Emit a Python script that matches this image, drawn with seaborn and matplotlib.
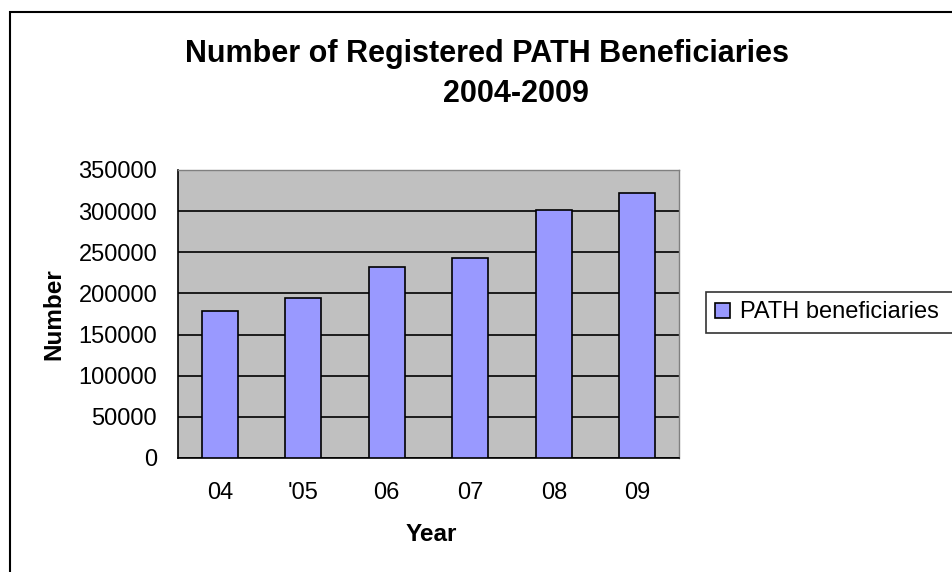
import pandas as pd
import matplotlib
matplotlib.use("Agg")
import matplotlib.pyplot as plt
import seaborn as sns
from matplotlib.patches import Rectangle

# data
years = ["04", "'05", "06", "07", "08", "09"]
beneficiaries = [179000, 195000, 232000, 243000, 301000, 322000]
series_name = "PATH beneficiaries"

df = pd.DataFrame({"Year": years, "Number": beneficiaries})

sns.set_style("white")
plt.rcParams["font.family"] = ["Liberation Sans", "DejaVu Sans"]
plt.rcParams["text.color"] = "black"
plt.rcParams["axes.labelcolor"] = "black"
plt.rcParams["xtick.color"] = "black"
plt.rcParams["ytick.color"] = "black"

fig = plt.figure(figsize=(9.52, 5.72), dpi=100)
ax = fig.add_axes([178 / 952, 1 - 458 / 572, (679 - 178) / 952, (458 - 170) / 572])
ax.set_facecolor("#C0C0C0")

sns.barplot(data=df, x="Year", y="Number", color="#9999FF", edgecolor="black",
            linewidth=1.2, width=0.43, saturation=1, label=series_name, ax=ax, zorder=3)

ax.set_xlim(-0.5, 5.5)
ax.set_ylim(0, 350000)
ax.set_yticks(range(0, 350001, 50000))
ax.set_yticklabels([str(v) for v in range(0, 350001, 50000)])
ax.yaxis.grid(True, color="black", linewidth=1.2, zorder=1)
ax.set_axisbelow(True)

# tick marks between categories, labels in the middle
ax.set_xticks([i - 0.5 for i in range(7)], minor=True)
ax.tick_params(axis="x", which="major", length=0, pad=17, labelsize=17)
ax.tick_params(axis="x", which="minor", length=6, width=1.2, color="black", direction="out")
ax.tick_params(axis="y", length=6, width=1.2, color="black", direction="out", labelsize=17, pad=9)

for side in ["left", "bottom"]:
    ax.spines[side].set_color("black")
    ax.spines[side].set_linewidth(1.2)
for side in ["top", "right"]:
    ax.spines[side].set_color("#808080")
    ax.spines[side].set_linewidth(1.0)

ax.set_xlabel("Year", fontsize=17.5, fontweight="bold")
ax.set_ylabel("Number", fontsize=17.5, fontweight="bold")
ax.xaxis.set_label_coords(0.505, -0.227)
ax.yaxis.set_label_coords(-0.2255, 0.5)

fig.text(487 / 952, 1 - 62 / 572, "Number of Registered PATH Beneficiaries",
         ha="center", va="baseline", fontsize=22, fontweight="bold")
fig.text(516 / 952, 1 - 102 / 572, "2004-2009",
         ha="center", va="baseline", fontsize=22, fontweight="bold")

if ax.legend_:
    ax.legend_.remove()
handles, labels = ax.get_legend_handles_labels()
# legend box runs off the right edge like in the original
leg = fig.legend(handles, labels, loc="center left",
                 bbox_to_anchor=(706 / 952, 1 - 312.5 / 572, 260 / 952, 0), mode="expand",
                 frameon=True, fancybox=False, edgecolor="black", fontsize=17,
                 handlelength=0.6, handleheight=0.6, handletextpad=0.45,
                 borderpad=0.4, borderaxespad=0)
leg.get_frame().set_linewidth(1.2)

# outer chart border
fig.patches.append(Rectangle((10 / 952, -0.1), 1.2, 1.1 - 12 / 572, transform=fig.transFigure,
                             fill=False, edgecolor="black", linewidth=1.5))

fig.savefig("out.png", dpi=100)
